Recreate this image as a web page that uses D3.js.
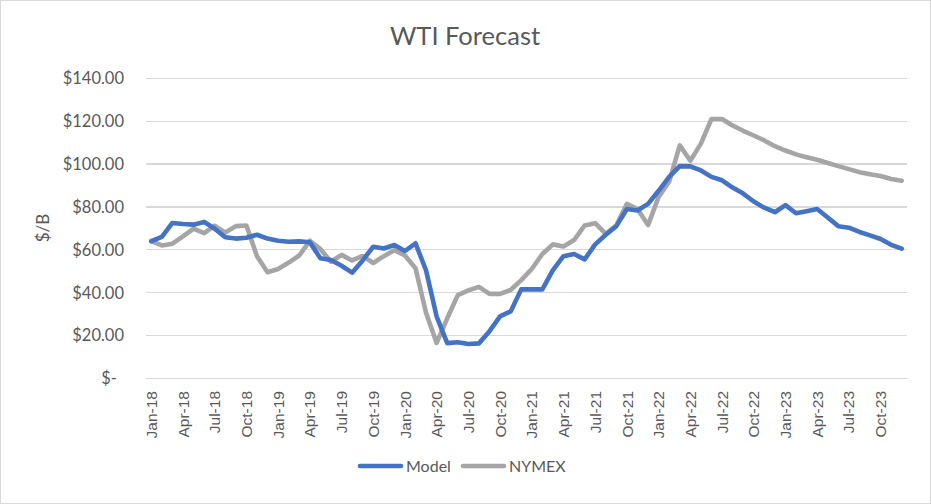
<!DOCTYPE html>
<html>
<head>
  <meta charset="utf-8">
  <script src="https://cdn.jsdelivr.net/npm/d3@7"></script>
  <style>
    body { margin: 0; background: #fff; }
    svg { display: block; }
    .grid line { stroke: #d9d9d9; stroke-width: 1.3; shape-rendering: crispEdges; }
    .ylab text { font-family: Lato, "Open Sans", sans-serif; font-size: 16.5px; fill: #595959; }
    .xlab text { font-family: "Liberation Sans", Arial, sans-serif; font-size: 15.5px; fill: #595959; }
    .series { fill: none; stroke-width: 4.6; stroke-linejoin: round; stroke-linecap: round; }
  </style>
</head>
<body>
<script>
  // monthly categories Jan-18 .. Dec-23
  var months = d3.timeMonth.range(new Date(2018, 0, 1), new Date(2024, 0, 1));
  var monthLabels = months.map(d3.timeFormat("%b-%y"));

  var model = [64, 66, 72.5, 72, 71.7, 73, 69.8, 65.8, 65.2, 65.6, 67, 65.2,
               64.2, 63.7, 63.9, 63.5, 56, 55.2, 52.5, 49.3, 55, 61.4, 60.6, 62.2,
               59.4, 63, 50.3, 28.8, 16.4, 16.8, 16, 16.3, 22, 28.9, 31.2, 41.5,
               41.5, 41.5, 50.5, 57, 58, 55.5, 62.5, 67, 71, 79, 78.3, 81.4,
               87.5, 94, 99, 98.9, 97, 94, 92.4, 89, 86.2, 82.5, 79.6, 77.5,
               80.8, 77, 78, 79, 75, 71, 70.3, 68.3, 66.7, 65, 62.3, 60.5];

  var nymex = [64, 62, 62.8, 66.2, 69.8, 67.7, 71.2, 68, 71, 71.3, 57, 49.5,
               51, 54, 57.3, 64.2, 60.3, 54.4, 57.6, 55, 57.1, 53.8, 57, 59.8,
               57.3, 51.4, 30.5, 16.5, 28, 38.8, 41, 42.7, 39.4, 39.4, 41.2, 45.8,
               51, 58, 62.5, 61.5, 64.5, 71.3, 72.4, 67.4, 71.3, 81.4, 79, 71.5,
               84.6, 91.8, 108.7, 101.5, 109.5, 121, 121, 118, 115.5, 113.3, 111, 108.3,
               106.3, 104.5, 103.2, 102, 100.5, 99, 97.6, 96.2, 95.2, 94.4, 93, 92.2];

  var yTicks = [0, 20, 40, 60, 80, 100, 120, 140];

  var W = 931, H = 504;
  var plotLeft = 146, plotRight = 907, plotTop = 78.3, plotBottom = 378.3;

  var svg = d3.select("body").append("svg")
      .attr("width", W).attr("height", H);

  svg.append("rect")
      .attr("x", 0.5).attr("y", 0.5)
      .attr("width", W - 1).attr("height", H - 1)
      .attr("fill", "#fff").attr("stroke", "#d9d9d9");

  var x = d3.scalePoint().domain(monthLabels).range([plotLeft, plotRight]).padding(0.5);
  var y = d3.scaleLinear().domain([0, 140]).range([plotBottom, plotTop]);

  // gridlines
  svg.append("g").attr("class", "grid")
    .selectAll("line").data(yTicks).enter().append("line")
      .attr("x1", plotLeft).attr("x2", plotRight)
      .attr("y1", function(d) { return y(d); })
      .attr("y2", function(d) { return y(d); });

  // y labels (accounting style)
  svg.append("g").attr("class", "ylab")
    .selectAll("text").data(yTicks).enter().append("text")
      .attr("x", function(d) { return d === 0 ? 117 : 124; })
      .attr("y", function(d) { return y(d); })
      .attr("dy", "0.36em")
      .attr("text-anchor", "end")
      .text(function(d) { return d === 0 ? "$-" : "$" + d3.format(".2f")(d); });

  // x labels every 3 months
  svg.append("g").attr("class", "xlab")
    .selectAll("text").data(monthLabels.filter(function(d, i) { return i % 3 === 0; }))
    .enter().append("text")
      .attr("transform", function(d) { return "translate(" + x(d) + "," + 391 + ") rotate(-90)"; })
      .attr("dy", "0.36em")
      .attr("text-anchor", "end")
      .text(function(d) { return d; });

  var line = d3.line()
      .x(function(d, i) { return x(monthLabels[i]); })
      .y(function(d) { return y(d); });

  svg.append("path").attr("class", "series")
      .attr("stroke", "#a5a5a5").attr("d", line(nymex));
  svg.append("path").attr("class", "series")
      .attr("stroke", "#4472c4").attr("d", line(model));

  // title
  svg.append("text")
      .attr("x", 465).attr("y", 45)
      .attr("text-anchor", "middle")
      .style("font-family", "Lato, 'Open Sans', sans-serif")
      .style("font-size", "25.5px")
      .style("fill", "#595959")
      .text("WTI Forecast");

  // y axis title
  svg.append("text")
      .attr("transform", "translate(43,228) rotate(-90)")
      .attr("dy", "0.36em")
      .attr("text-anchor", "middle")
      .style("font-family", "Lato, 'Open Sans', sans-serif")
      .style("font-size", "17px")
      .style("fill", "#595959")
      .text("$/B");

  // legend
  var legend = [{name: "Model", color: "#4472c4", x: 360}, {name: "NYMEX", color: "#a5a5a5", x: 463}];
  var lg = svg.append("g").selectAll("g").data(legend).enter().append("g");
  lg.append("line")
      .attr("x1", function(d) { return d.x; })
      .attr("x2", function(d) { return d.x + 41; })
      .attr("y1", 466).attr("y2", 466)
      .attr("stroke", function(d) { return d.color; })
      .attr("stroke-width", 4.6).attr("stroke-linecap", "round");
  lg.append("text")
      .attr("x", function(d) { return d.x + 46; })
      .attr("y", 466).attr("dy", "0.36em")
      .style("font-family", "Lato, 'Open Sans', sans-serif")
      .style("font-size", "16px")
      .style("fill", "#595959")
      .text(function(d) { return d.name; });
</script>
</body>
</html>
